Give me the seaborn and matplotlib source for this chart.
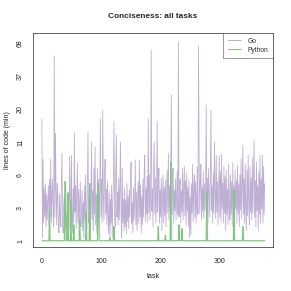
import numpy as np
import pandas as pd
import matplotlib
matplotlib.use("Agg")
import matplotlib.pyplot as plt
from matplotlib.lines import Line2D
import seaborn as sns

# lines of code relative to the shortest solution, one value per task
go_loc = [
    16.6, 1.1, 8, 1.8, 4.5, 2.2, 5, 1.6, 4, 2, 3.5, 4.8, 1.7, 5.5, 2.2, 8, 1.8, 4, 5.5, 2.4,
    1.6, 54, 2.2, 13, 4.2, 1.7, 5, 3.9, 1.5, 1.3, 4, 2.2, 1.6, 5.2, 8.9, 1.7, 1.3, 3.2, 4, 1.8,
    4.1, 1.4, 2.4, 1.2, 1.8, 4.2, 1.5, 8.4, 3.5, 1.6, 8.6, 2.4, 1.3, 4.5, 1.8, 13.2, 2.6, 4.8, 1.5, 3.8,
    7.5, 1.8, 4.4, 1.2, 3.5, 5.2, 1.6, 2.4, 4.4, 1.4, 3.4, 1.1, 4.8, 1.9, 6, 2.4, 1.5, 4.6, 13.2, 1.8,
    3.6, 5, 1.2, 3.3, 11, 2, 4.3, 1.4, 6.8, 2.4, 10, 1.7, 4, 1.3, 6.8, 2.3, 5.5, 1.6, 4.3, 16.7,
    2.2, 5.5, 1.8, 19.6, 4, 2, 6, 8, 2.4, 4.5, 1.7, 5.3, 2.2, 1.3, 4.2, 1.1, 3.6, 1.8, 4.8, 1.1,
    3.3, 5, 16, 2.6, 1.6, 6.5, 12.5, 2.2, 4.2, 1.7, 5.6, 2, 4.5, 11, 2.4, 1.1, 6.8, 1.8, 3.6, 1.4,
    4.6, 1.6, 3.5, 1.3, 5, 1.9, 3.8, 1.5, 4.4, 2.2, 5.8, 7.6, 1.8, 3.4, 1.3, 4.6, 2, 3.5, 7.9, 1.7,
    4.2, 1.4, 3.6, 5.2, 1.8, 7.9, 2.2, 4.8, 1.3, 3.8, 1.7, 5.5, 2.2, 6, 8.6, 1.9, 4.5, 2.4, 5.8, 1.8,
    16.8, 2.5, 6, 2, 5, 60, 2.7, 4.5, 1.6, 6.2, 11, 2.5, 5.6, 1.8, 4.3, 16, 2.6, 5.2, 6.8, 1.8,
    4.4, 2.2, 5.6, 1.4, 3.8, 6, 1.8, 4.6, 2.3, 5.4, 1.6, 4, 6.5, 2.5, 8.9, 2, 4.8, 2.7, 6.2, 26,
    2.4, 5.8, 6.8, 1.8, 4.4, 2.7, 5.5, 2, 4.2, 6.4, 2.4, 70, 2.2, 4.8, 5.5, 1.8, 4.3, 2.6, 6.8, 2,
    4.6, 7, 2.3, 5.3, 1.7, 6.2, 2.7, 4.6, 1.6, 5.4, 1.1, 3.8, 1.2, 5, 2.5, 7.3, 1.9, 4.5, 6, 2.2,
    5.2, 1.8, 4, 7, 2.4, 64, 9.2, 2.5, 5, 7.3, 2, 4.6, 2.6, 6.4, 2.1, 5, 2.7, 4.4, 21.5, 2.4,
    5.6, 1.8, 6.8, 4, 2.2, 5.5, 19.6, 2.7, 4.8, 1.8, 6.2, 2.5, 11, 4.2, 2.1, 8.6, 2.6, 5.2, 1.7, 4.7,
    8.6, 2.2, 6.4, 1.9, 8.8, 2.9, 5, 1.8, 7, 2.5, 5.8, 1.4, 6.5, 2.4, 4.5, 1.7, 7.3, 3, 2, 6,
    2.4, 5.2, 1.6, 7.5, 2.7, 4.8, 1.3, 6.6, 2.9, 5.4, 1.8, 7.2, 2.5, 5, 1.6, 6, 2.8, 8, 2.1, 4.6,
    10.3, 2.4, 5.5, 1.8, 7.4, 2.9, 1.4, 6.6, 2.3, 8.6, 3.2, 1.7, 7, 2.6, 5.6, 2, 8.2, 2.5, 6, 11.3,
    2.2, 5.3, 1.6, 7.6, 2.7, 4.8, 1.4, 6.4, 2.4, 8.6, 1.8, 5.5, 2.9, 8.6, 1.8, 7, 2.4, 5,
]
# python is the shortest almost everywhere (ratio 1), except these tasks
py_spike_task = [13, 39, 40, 44, 49, 54, 64, 75, 81, 95, 96, 115, 122, 197, 209, 218, 232, 237, 279, 325, 340]
py_spike_loc = [2.8, 5.2, 5.0, 4.1, 3.4, 1.7, 2.0, 2.6, 5.0, 5.0, 4.9, 1.1, 1.6, 1.6, 1.2, 7.6, 1.7, 1.5, 4.2, 4.4, 1.6]

langs = ["Go", "Python"]
colors = ["#BEAED4", "#7FC97F"]
y_ticks = [1, 3, 6, 11, 20, 37, 68]
x_ticks = [0, 100, 200, 300]

n = len(go_loc)
python_loc = np.ones(n)
python_loc[py_spike_task] = py_spike_loc

df = pd.DataFrame({
    "task": np.concatenate([np.arange(n), np.arange(n)]),
    "loc": np.concatenate([go_loc, python_loc]),
    "language": ["Go"] * n + ["Python"] * n,
})

# axis where the tick labels sit equally spaced (piecewise log)
log_t = np.log(y_ticks)
pos_t = np.arange(len(y_ticks), dtype=float)


def fwd(y):
    y = np.asarray(y, dtype=float)
    shp = y.shape
    ly = np.log(np.clip(np.atleast_1d(y).ravel(), 1e-9, None))
    out = np.interp(ly, log_t, pos_t)
    lo = ly < log_t[0]
    out[lo] = (ly[lo] - log_t[0]) / (log_t[1] - log_t[0])
    hi = ly > log_t[-1]
    out[hi] = pos_t[-1] + (ly[hi] - log_t[-1]) / (log_t[-1] - log_t[-2])
    return out.reshape(shp)


def inv(u):
    u = np.asarray(u, dtype=float)
    shp = u.shape
    uu = np.atleast_1d(u).ravel()
    out = np.interp(uu, pos_t, log_t)
    lo = uu < pos_t[0]
    out[lo] = log_t[0] + uu[lo] * (log_t[1] - log_t[0])
    hi = uu > pos_t[-1]
    out[hi] = log_t[-1] + (uu[hi] - pos_t[-1]) * (log_t[-1] - log_t[-2])
    return np.exp(out).reshape(shp)


sns.set_style("white")
plt.rcParams["font.family"] = ["Liberation Sans", "DejaVu Sans"]

fig = plt.figure(figsize=(291 / 72, 291 / 72), dpi=72)
ax = fig.add_axes([33 / 291, 44 / 291, 240 / 291, 214 / 291])

sns.lineplot(data=df, x="task", y="loc", hue="language", hue_order=langs,
             palette=colors, estimator=None, linewidth=0.8, legend=False, ax=ax)
ax.lines[1].set_linewidth(1.2)

ax.set_yscale("function", functions=(fwd, inv))
ax.set_xlim(-15, 391)
ax.set_ylim(float(inv(-0.19)), float(inv(6.31)))
ax.set_yticks(y_ticks)
ax.set_yticklabels([str(t) for t in y_ticks])
ax.set_xticks(x_ticks)
ax.minorticks_off()

for sp in ax.spines.values():
    sp.set_color("#333333")
    sp.set_linewidth(0.75)
ax.tick_params(axis="both", length=4, width=0.6, color="#333333", labelsize=7, labelcolor="#222222")
ax.tick_params(axis="x", pad=7)
ax.tick_params(axis="y", pad=5)
for lab in ax.get_yticklabels():
    lab.set_rotation(90)
    lab.set_va("center")

ax.set_xlabel("task", fontsize=7, color="#222222", va="center")
ax.xaxis.set_label_coords(0.5, -0.14)
ax.set_ylabel("lines of code (min)", fontsize=7, color="#222222", va="center")
ax.yaxis.set_label_coords(-0.106, 0.5)

fig.text(153 / 291, 1 - 17 / 291, "Conciseness: all tasks", ha="center", va="center",
         fontsize=8.2, fontweight="bold")

handles = [Line2D([], [], color=c, lw=1.0) for c in colors]
leg = ax.legend(handles, langs, loc="upper right", fontsize=6.6, frameon=True, fancybox=False,
                borderaxespad=0, handlelength=2.0, handletextpad=1.0, borderpad=0.7,
                labelspacing=0.3)
leg.get_frame().set_edgecolor("#333333")
leg.get_frame().set_linewidth(0.6)

fig.savefig("out.png", dpi=72)
